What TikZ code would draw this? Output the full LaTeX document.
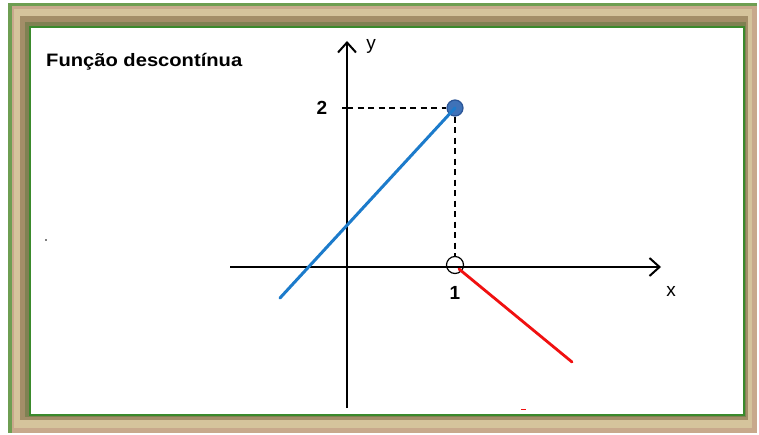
\documentclass[tikz,border=0pt]{standalone}
\usepackage{fontspec}
\setmainfont{Liberation Sans}
\usetikzlibrary{arrows.meta}
\definecolor{frameouter}{HTML}{6E9E52}
\definecolor{framepink}{HTML}{C8A98C}
\definecolor{framelight}{HTML}{D5C49C}
\definecolor{framebrown}{HTML}{A38E68}
\definecolor{frameolive}{HTML}{7F8152}
\definecolor{framegreen}{HTML}{3A8A2C}
\definecolor{lineblue}{HTML}{1C7BCB}
\definecolor{dotblue}{HTML}{3F72B8}
\definecolor{dotedge}{HTML}{2B5597}
\definecolor{linered}{HTML}{F01010}
\tikzset{
  axis/.style={line width=2.2pt, -{Straight Barb[length=10pt,width=18pt,line width=2pt]}},
  guide/.style={line width=1.8pt, dash pattern=on 6pt off 4.5pt},
  lbl/.style={font=\fontsize{19}{19}\selectfont\bfseries, inner sep=0pt},
  axlbl/.style={font=\fontsize{19}{19}\selectfont, inner sep=0pt},
  title/.style={font=\fontsize{18}{18}\selectfont\bfseries, inner sep=0pt, anchor=west},
}
\begin{document}
\begin{tikzpicture}[x=1pt,y=-1pt]
\useasboundingbox (0,0) rectangle (759,435);
% frame
\fill[framepink] (8,3) rectangle (757,433);
\fill[frameouter] (8,3) rectangle (757,6.5);
\fill[frameouter] (8,3) rectangle (11.5,433);
\fill[framelight] (14,9) rectangle (752,428);
\fill[framebrown] (20,16) rectangle (747.5,420);
\fill[frameolive] (25,22) rectangle (745.5,417);
\fill[white] (30,27) rectangle (744,415);
\draw[framegreen, line width=2pt] (30,27) rectangle (744,415);
% title
\node[title] (title) at (46,62) {\scalebox{1.12}[1]{Função descontínua}};
% axes
\coordinate (xa0) at (230,267);
\coordinate (xa1) at (661,267);
\coordinate (ya0) at (347,408);
\coordinate (ya1) at (347,41);
\draw[axis] (xa0) -- (xa1);
\draw[axis] (ya0) -- (ya1);
\node[axlbl] (xl) at (671,291) {x};
\node[axlbl] (yl) at (371,46) {y};
% tick at 2
\coordinate (t2) at (347,108);
\draw[line width=1.8pt] (342,108) -- (t2);
\node[lbl] (l2) at (322,108) {2};
\node[lbl] (l1) at (455,293) {1};
% filled dot and open circle
\node[circle, fill=dotblue, draw=dotedge, line width=1.2pt, minimum size=16pt, inner sep=0pt] (fd) at (455,108) {};
\node[circle, draw=black, line width=1.2pt, minimum size=17pt, inner sep=0pt] (oc) at (455,265) {};
% dashed guides
\draw[guide] (t2) -- (fd.west);
\draw[guide] (fd.south) -- (oc.north);
% blue segment
\coordinate (b0) at (280,298);
\draw[lineblue, line width=3pt, line cap=round] (b0) -- (fd.center);
% red segment
\coordinate (r1) at (572,362);
\path (oc.center) ++(4,4) coordinate (r0);
\draw[linered, line width=2.8pt, line cap=round] (r0) -- (r1);
% small marks
\coordinate (m1) at (521,409.5);
\coordinate (m2) at (526,409.5);
\draw[linered, line width=1pt] (m1) -- (m2);
\fill[gray] (44.5,239.5) rectangle (46.5,241.5);
\end{tikzpicture}
\end{document}
